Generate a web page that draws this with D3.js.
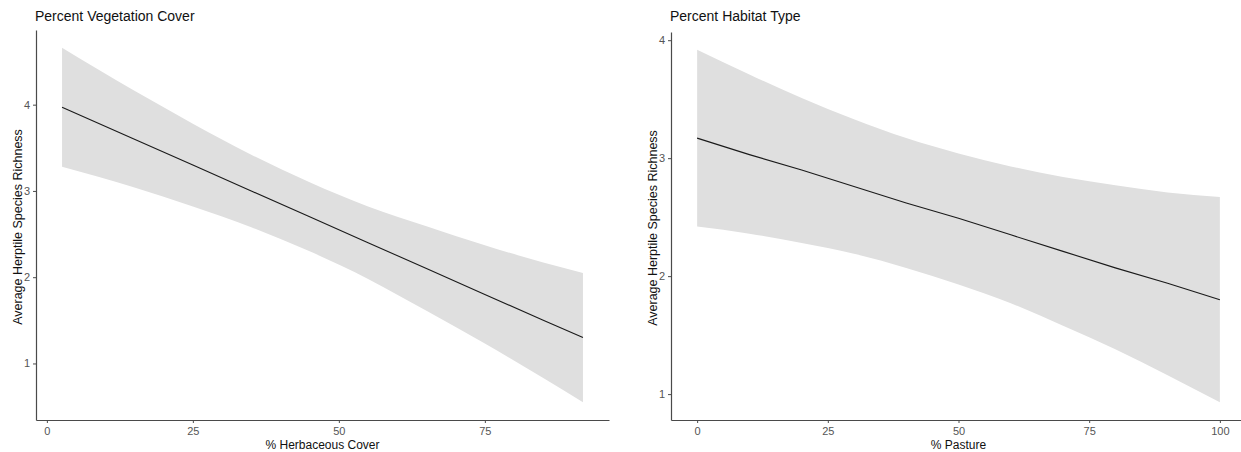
<!DOCTYPE html>
<html>
<head>
<meta charset="utf-8">
<script src="https://cdn.jsdelivr.net/npm/d3@7"></script>
<style>
    body { margin: 0; background: #fff; }
    svg { display: block; font-family: "Liberation Sans", Arial, sans-serif; }
    .tick text { fill: #555; font-size: 11px; }
    .tick line, .domain { stroke: #4a4a4a; }
</style>
</head>
<body>
<script>
if(!d3){
    throw new Error("d3 failed to load");
}

// left panel: % herbaceous cover
const vegX     = [2.6, 15, 25, 35, 45, 55, 65, 75, 85, 91.8];
const vegFit   = [3.97, 3.60, 3.30, 3.00, 2.70, 2.40, 2.10, 1.80, 1.50, 1.30];
const vegUpper = [4.66, 4.16, 3.78, 3.42, 3.10, 2.82, 2.59, 2.37, 2.17, 2.05];
const vegLower = [3.28, 3.04, 2.82, 2.58, 2.30, 1.98, 1.61, 1.23, 0.83, 0.55];
const vegTicksX = [0, 25, 50, 75];
const vegTicksY = [1, 2, 3, 4];

// right panel: % pasture
const pastX     = [0, 10, 20, 30, 40, 50, 60, 70, 80, 90, 100];
const pastFit   = [3.17, 3.03, 2.90, 2.76, 2.62, 2.49, 2.35, 2.21, 2.07, 1.94, 1.80];
const pastUpper = [3.92, 3.71, 3.51, 3.33, 3.17, 3.04, 2.93, 2.84, 2.77, 2.71, 2.67];
const pastLower = [2.42, 2.36, 2.28, 2.19, 2.07, 1.93, 1.77, 1.58, 1.38, 1.16, 0.93];
const pastTicksX = [0, 25, 50, 75, 100];
const pastTicksY = [1, 2, 3, 4];

const W = 1241, H = 452;
const svg = d3.select("body").append("svg").attr("width", W).attr("height", H);

const panel = (p) => {
    // ggplot style 5% expansion around the data
    const xs = d3.extent(p.x);
    const ys = [d3.min(p.lower), d3.max(p.upper)];
    const ex = (xs[1] - xs[0]) * 0.05, ey = (ys[1] - ys[0]) * 0.05;
    const x = d3.scaleLinear().domain([xs[0] - ex, xs[1] + ex]).range([p.left, p.right]);
    const y = d3.scaleLinear().domain([ys[0] - ey, ys[1] + ey]).range([p.bottom, p.top]);

    const rows = p.x.map((v, i) => ({x: v, fit: p.fit[i], lo: p.lower[i], hi: p.upper[i]}));

    const g = svg.append("g");

    g.append("path")
        .datum(rows)
        .attr("fill", "#dfdfdf")
        .attr("d", d3.area().curve(d3.curveMonotoneX)
            .x(d => x(d.x)).y0(d => y(d.lo)).y1(d => y(d.hi)));

    g.append("path")
        .datum(rows)
        .attr("fill", "none")
        .attr("stroke", "#1a1a1a")
        .attr("stroke-width", 1.1)
        .attr("d", d3.line().x(d => x(d.x)).y(d => y(d.fit)));

    g.append("g")
        .attr("transform", `translate(0,${p.bottom})`)
        .call(d3.axisBottom(x).tickValues(p.ticksX).tickFormat(d3.format("d"))
            .tickSize(3).tickSizeOuter(0).tickPadding(4));

    g.append("g")
        .attr("transform", `translate(${p.left},0)`)
        .call(d3.axisLeft(y).tickValues(p.ticksY).tickFormat(d3.format("d"))
            .tickSize(3).tickSizeOuter(0).tickPadding(3));

    g.selectAll(".domain").attr("stroke-width", 1.2);

    g.append("text")
        .attr("x", p.left - 1).attr("y", 21)
        .attr("font-size", 14).attr("fill", "#111")
        .text(p.title);

    g.append("text")
        .attr("x", (p.left + p.right) / 2).attr("y", 449)
        .attr("text-anchor", "middle")
        .attr("font-size", 12).attr("fill", "#111")
        .text(p.xLabel);

    g.append("text")
        .attr("transform", `translate(${p.yLabelX},${(p.top + p.bottom) / 2 + 2}) rotate(-90)`)
        .attr("text-anchor", "middle")
        .attr("font-size", 12.5).attr("fill", "#111")
        .text("Average Herptile Species Richness");
};

panel({
    x: vegX, fit: vegFit, upper: vegUpper, lower: vegLower,
    ticksX: vegTicksX, ticksY: vegTicksY,
    left: 36, right: 609, top: 30, bottom: 420, yLabelX: 22,
    title: "Percent Vegetation Cover", xLabel: "% Herbaceous Cover"
});

panel({
    x: pastX, fit: pastFit, upper: pastUpper, lower: pastLower,
    ticksX: pastTicksX, ticksY: pastTicksY,
    left: 671, right: 1246, top: 32, bottom: 420, yLabelX: 657,
    title: "Percent Habitat Type", xLabel: "% Pasture"
});
</script>
</body>
</html>
